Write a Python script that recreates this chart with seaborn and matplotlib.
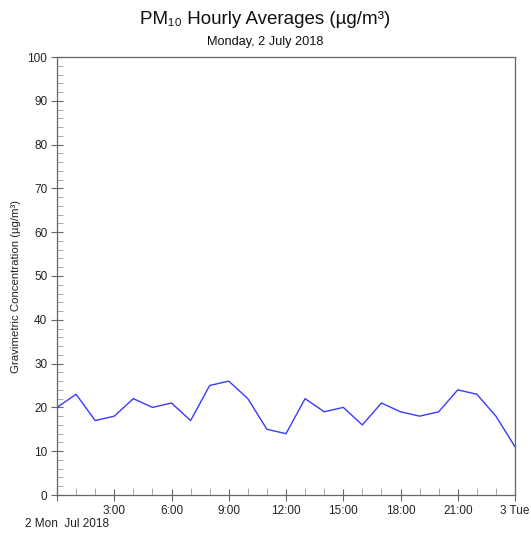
import matplotlib
matplotlib.use("Agg")
import matplotlib.pyplot as plt
import seaborn as sns
import pandas as pd
from matplotlib.ticker import MultipleLocator

hours = list(range(25))
pm10 = [20, 23, 17, 18, 22, 20, 21, 17, 25, 26, 22, 15, 14, 22, 19, 20, 16, 21, 19, 18, 19, 24, 23, 18, 11]
xtick_pos = [0, 3, 6, 9, 12, 15, 18, 21, 24]
xtick_labels = ["", "3:00", "6:00", "9:00", "12:00", "15:00", "18:00", "21:00", "3 Tue"]

sns.set_style("white")
plt.rcParams['font.family'] = ['Liberation Sans', 'DejaVu Sans']

df = pd.DataFrame({"hour": hours, "pm10": pm10})
fig = plt.figure(figsize=(5.31, 5.33), dpi=100)
ax = fig.add_axes([57/531, 1 - 495/533, (515-57)/531, (495-57)/533])
sns.lineplot(data=df, x="hour", y="pm10", ax=ax, color="#3a3aff", linewidth=1.0)

ax.set_xlim(0, 24)
ax.set_ylim(0, 100)
ax.set_xticks(xtick_pos)
ax.set_xticklabels(xtick_labels, fontsize=8.5, color="#222222")
ax.xaxis.set_minor_locator(MultipleLocator(1))
ax.set_yticks(range(0, 101, 10))
ax.yaxis.set_minor_locator(MultipleLocator(2))
ax.tick_params(which="both", left=True, bottom=True)
ax.tick_params(axis="y", which="major", direction="inout", length=8, width=0.8, colors="#666666", labelsize=8.5, labelcolor="#222222", pad=3)
ax.tick_params(axis="y", which="minor", direction="in", length=4, width=0.6, colors="#999999")
ax.tick_params(axis="x", which="major", direction="inout", length=9, width=0.8, colors="#666666", labelsize=8.5, labelcolor="#222222", pad=3)
ax.tick_params(axis="x", which="minor", direction="in", length=5, width=0.6, colors="#999999")
for s in ax.spines.values():
    s.set_color("#666666")
    s.set_linewidth(0.9)
ax.set_xlabel("")
ax.set_ylabel("Gravimetric Concentration (µg/m³)", fontsize=8.2, color="#222222")
ax.yaxis.set_label_coords(-0.078, 0.477)

fig.text(0.5, 1 - 20/533, "PM₁₀ Hourly Averages (µg/m³)", ha="center", va="center", fontsize=13.5, color="#111111")
fig.text(0.5, 1 - 42/533, "Monday, 2 July 2018", ha="center", va="center", fontsize=9.2, color="#111111")
fig.text(25/531, 1 - 524/533, "2 Mon  Jul 2018", ha="left", va="center", fontsize=8.5, color="#222222")

fig.savefig("out.png", dpi=100)
